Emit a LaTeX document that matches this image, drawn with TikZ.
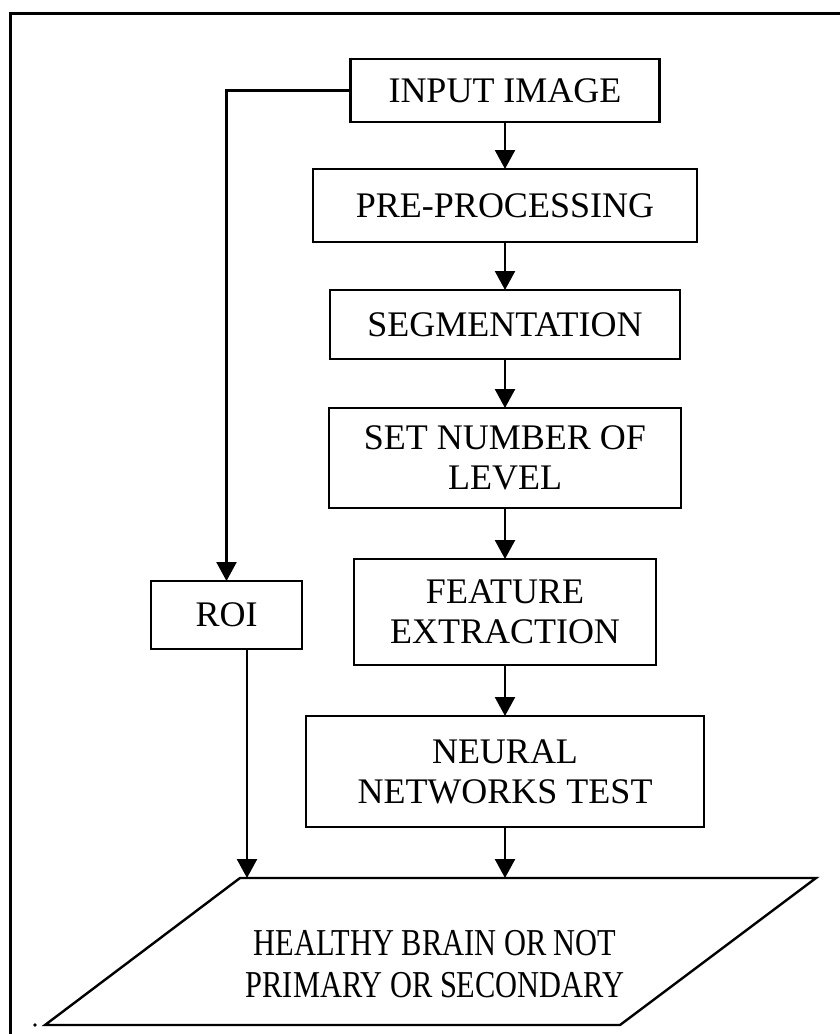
\documentclass[tikz,border=0pt]{standalone}
\usepackage{fontspec}
\setmainfont{Liberation Serif}
\newfontfamily\narrowserif[FakeStretch=0.8]{Liberation Serif}
\usetikzlibrary{arrows.meta,positioning}
\tikzstyle{every node}=[font=\fontsize{36}{40}\selectfont, align=center, inner sep=0, outer sep=0]
\tikzstyle{stage}=[draw, line width=2.4pt]
\tikzstyle{flow}=[line width=2.4pt, -{Triangle[length=19pt,width=20pt]}]

\begin{document}
\begin{tikzpicture}[x=1pt,y=-1pt]
    \fill[white] (0,0) rectangle (840,1034);
    \useasboundingbox (0,0) rectangle (840,1034);
    \draw[line width=3pt] (10,1034) -- (10,13) -- (840,13);
    \node[stage, minimum width=309pt, minimum height=63pt] (input) at (505,90.5) {INPUT IMAGE};
    \node[stage, minimum width=384pt, minimum height=73pt] (prep) at (505,205.5) {PRE-PROCESSING};
    \node[stage, minimum width=350pt, minimum height=69pt] (seg) at (505,324.5) {SEGMENTATION};
    \node[stage, minimum width=352pt, minimum height=100pt] (level) at (505,458) {SET NUMBER OF\\LEVEL};
    \node[stage, minimum width=302pt, minimum height=106pt] (feat) at (505,612) {FEATURE\\EXTRACTION};
    \node[stage, minimum width=398pt, minimum height=111pt] (nn) at (505,771.5) {NEURAL\\NETWORKS TEST};
    \node[stage, minimum width=151pt, minimum height=68pt] (roi) at (226.5,615) {ROI};
    % result
    \draw[line width=2.4pt] (240,878) -- (816,878) -- (620,1025) -- (45,1025) -- cycle;
    \node[font=\narrowserif\fontsize{38}{42}\selectfont] (result) at (435,964) {HEALTHY BRAIN OR NOT\\PRIMARY OR SECONDARY};
    \coordinate (roiend) at (247,878);
    \coordinate (nnend) at (505,878);
    \fill (35,1025) circle (1.8pt);
    \draw[flow] (input) -- (prep);
    \draw[flow] (prep) -- (seg);
    \draw[flow] (seg) -- (level);
    \draw[flow] (level) -- (feat);
    \draw[flow] (feat) -- (nn);
    \draw[flow] (nn) -- (nnend);
    \draw[flow] (input.west) -| (roi.north);
    \draw[flow] (roi.south -| roiend) -- (roiend);
\end{tikzpicture}
\end{document}
